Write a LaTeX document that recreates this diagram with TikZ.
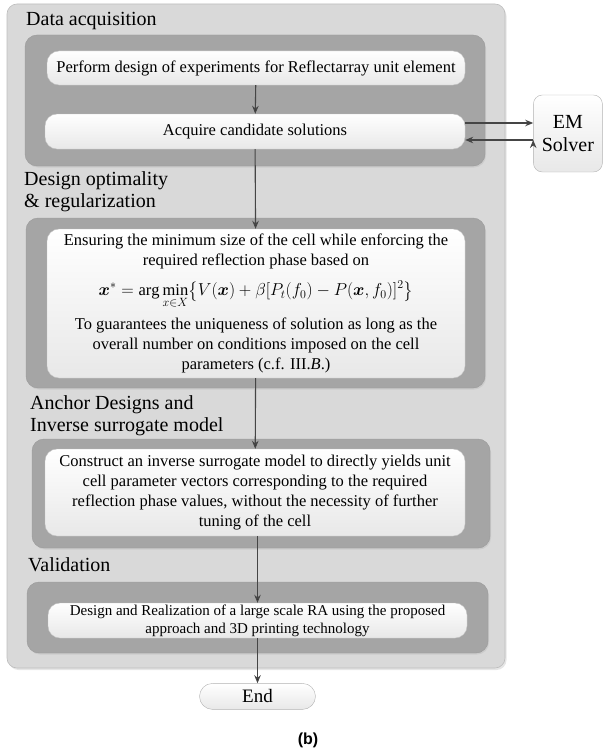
\documentclass[tikz,border=0pt]{standalone}
\usepackage{amsmath}
\usepackage{amssymb}
\usepackage{bm}
\usepackage{fontspec}
\setmainfont{Liberation Serif}
\setsansfont{Liberation Sans}
\usetikzlibrary{arrows.meta,shadows,positioning}

\definecolor{outerfill}{HTML}{D9D9D9}
\definecolor{outerline}{HTML}{BDBDBD}
\definecolor{panelfill}{HTML}{A5A5A5}
\definecolor{panelline}{HTML}{9A9A9A}
\definecolor{boxline}{HTML}{C4C4C4}
\definecolor{arrowcol}{HTML}{454545}

\tikzset{
  outer/.style={draw=outerline,fill=outerfill,rounded corners=10pt,line width=0.6pt,inner sep=0pt,
    drop shadow={shadow xshift=1.5pt,shadow yshift=-2pt,opacity=0.2}},
  panel/.style={draw=panelline,fill=panelfill,rounded corners=12pt,line width=0.4pt,inner sep=0pt,
    drop shadow={shadow xshift=1pt,shadow yshift=-1.5pt,opacity=0.15}},
  block/.style={draw=boxline,top color=white,bottom color=black!9,rounded corners=12pt,
    line width=0.4pt,align=center,inner sep=0pt,font=\rmfamily\fontsize{16.5}{20}\selectfont},
  solver/.style={block,rounded corners=9pt,draw=black!30,font=\rmfamily\fontsize{20}{23}\selectfont},
  term/.style={block,rounded corners=13pt,draw=black!30,font=\rmfamily\fontsize{19}{22}\selectfont},
  phase/.style={align=left,anchor=west,inner sep=0pt,font=\rmfamily\fontsize{20}{22}\selectfont},
}

\begin{document}
\begin{tikzpicture}[x=1pt,y=-1pt,>={Stealth[length=8pt,width=6.5pt]},auto]
      \useasboundingbox (0,0) rectangle (604,752);

      % background panels
      \node[outer,minimum width=498pt,minimum height=664pt] (frame) at (256,336) {};
      \node[panel,minimum width=460pt,minimum height=131pt] (acqpanel) at (255,100.5) {};
      \node[panel,minimum width=459pt,minimum height=170pt] (optpanel) at (255.5,303) {};
      \node[panel,minimum width=458pt,minimum height=109pt] (invpanel) at (261,493.5) {};
      \node[panel,minimum width=461pt,minimum height=71pt] (valpanel) at (257.5,617.5) {};

      % phase titles
      \node[phase] (acqtitle) at (26,21) {Data acquisition};
      \node[phase] (opttitle) at (24,192) {Design optimality\\ \& regularization};
      \node[phase] (invtitle) at (30,415.5) {Anchor Designs and\\ Inverse surrogate model};
      \node[phase] (valtitle) at (28,565) {Validation};

      % steps
      \node[block,minimum width=418pt,minimum height=34pt] (doe) at (256,68)
        {Perform design of experiments for Reflectarray unit element};
      \node[block,minimum width=420pt,minimum height=35pt] (acquire) at (255,131.5)
        {Acquire candidate solutions};
      \node[solver,minimum width=69pt,minimum height=77pt] (em) [right=68pt of acquire,yshift=-2pt]
        {EM\\ Solver};
      \node[block,minimum width=418pt,minimum height=149pt] (optim) at (256,303.5)
        {Ensuring the minimum size of the cell while enforcing the\\
         required reflection phase based on\\[10pt]
         $\displaystyle \bm{x}^{*}=\arg\min_{x\in X}\bigl\{V(\bm{x})+\beta[P_t(f_0)-P(\bm{x},f_0)]^2\bigr\}$\\[8pt]
         To guarantees the uniqueness of solution as long as the\\
         overall number on conditions imposed on the cell\\
         parameters (c.f. III.\textit{B}.)};
      \node[block,minimum width=420pt,minimum height=87pt] (inverse) at (255,492.5)
        {Construct an inverse surrogate model to directly yields unit\\
         cell parameter vectors corresponding to the required\\
         reflection phase values, without the necessity of further\\
         tuning of the cell};
      \node[block,minimum width=419pt,minimum height=35pt,font=\rmfamily\fontsize{15}{18}\selectfont] (valid) at (257.5,620.5)
        {Design and Realization of a large scale RA using the proposed\\
         approach and 3D printing technology};
      \node[term,minimum width=116pt,minimum height=26pt] (end) [below=45pt of valid] {End};

      \node[font=\sffamily\bfseries\fontsize{16}{18}\selectfont] (caption) at (308,740) {(b)};

      \path[->,draw=arrowcol,line width=1.1pt]
      (doe) edge (acquire)
      (acquire) edge (optim)
      (optim) edge (inverse)
      (inverse.south -| valid) edge (valid)
      (valid) edge (end)

      ([yshift=8.5pt]acquire.east) edge ([yshift=8.5pt]acquire.east -| em.west)
      ([yshift=-8.5pt]acquire.east -| em.west) edge ([yshift=-8.5pt]acquire.east)
      ;
    \end{tikzpicture}
\end{document}
